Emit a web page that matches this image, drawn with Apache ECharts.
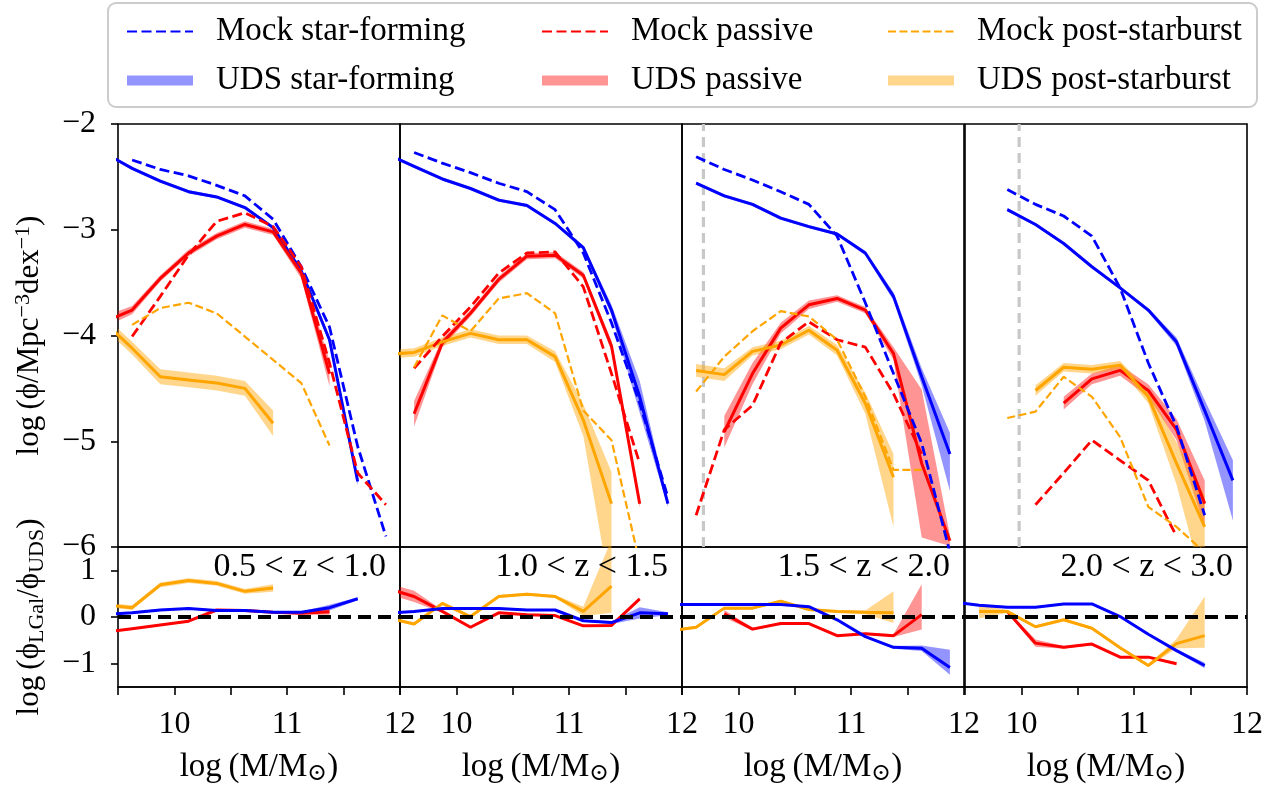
<!DOCTYPE html>
<html>
<head>
<meta charset="utf-8">
<script src="https://cdn.jsdelivr.net/npm/echarts@6/dist/echarts.min.js"></script>
<style>
  html, body { margin: 0; padding: 0; background: #fff; }
  #chart { width: 1278px; height: 788px; }
</style>
</head>
<body>
<div id="chart"></div>
<script>
// bin centres in log stellar mass
const massBins = [9.375, 9.625, 9.875, 10.125, 10.375, 10.625, 10.875, 11.125, 11.375, 11.625, 11.875];
const zBins = ['0.5 < z < 1.0', '1.0 < z < 1.5', '1.5 < z < 2.0', '2.0 < z < 3.0'];
const massLimit = [null, null, 9.69, 9.98];
const phiTicks = [-6, -5, -4, -3, -2];
const ratioTicks = [-1, 0, 1];
const massTicks = [10, 11, 12];

// mock (L-Galaxies) log phi, one row per redshift bin
const mockSF = [
    [null, -2.34, -2.43, -2.49, -2.58, -2.68, -2.90, -3.35, -3.92, -5.05, -5.90],
    [null, -2.27, -2.37, -2.46, -2.56, -2.64, -2.81, -3.22, -3.88, -4.64, -5.53],
    [null, -2.31, -2.43, -2.53, -2.64, -2.76, -3.06, -3.69, -4.36, -5.02, -6.05],
    [null, null, -2.62, -2.76, -2.87, -3.06, -3.55, -4.26, -4.86, -5.70, null]
];
const mockPas = [
    [null, -4.01, -3.63, -3.24, -2.92, -2.84, -2.97, -3.35, -4.26, -5.30, -5.60],
    [null, -4.31, -4.01, -3.73, -3.41, -3.22, -3.21, -3.54, -4.36, -5.21, null],
    [null, -5.70, -4.89, -4.66, -4.07, -3.87, -4.04, -4.11, -4.55, -5.12, null],
    [null, null, null, -5.60, -5.30, -4.99, -5.18, -5.37, -5.90, null, null]
];
const mockPsb = [
    [null, -3.90, -3.74, -3.69, -3.79, -4.01, -4.23, -4.45, -5.04, null, null],
    [null, -4.30, -3.81, -3.96, -3.65, -3.60, -3.79, -4.71, -4.99, -6.15, null],
    [null, -4.53, -4.20, -3.96, -3.77, -3.82, -4.04, -4.58, -5.27, -5.27, null],
    [null, null, -4.78, -4.72, -4.39, -4.58, -4.96, -5.62, -5.81, -6.05, null]
];

// UDS log phi and errors (number = symmetric, [down, up] otherwise)
const udsSF = [
    [-2.27, -2.42, -2.54, -2.64, -2.69, -2.79, -2.98, -3.39, -4.04, -5.38, null],
    [-2.28, -2.40, -2.52, -2.61, -2.72, -2.77, -2.94, -3.17, -3.76, -4.58, -5.59],
    [null, -2.56, -2.68, -2.76, -2.89, -2.97, -3.04, -3.22, -3.63, -4.39, -5.12],
    [null, null, -2.81, -2.95, -3.13, -3.35, -3.55, -3.76, -4.06, -4.71, -5.37]
];
const udsSFErr = [
    [0.015, 0.015, 0.015, 0.015, 0.015, 0.015, 0.015, 0.02, 0.03, 0.04, null],
    [0.015, 0.015, 0.015, 0.015, 0.015, 0.015, 0.015, 0.02, 0.05, 0.15, 0.03],
    [null, 0.015, 0.015, 0.015, 0.015, 0.015, 0.015, 0.02, 0.04, 0.08, [0.35, 0.2]],
    [null, null, 0.015, 0.015, 0.015, 0.015, 0.015, 0.02, 0.04, 0.1, [0.38, 0.19]]
];
const udsPas = [
    [-3.87, -3.76, -3.46, -3.22, -3.06, -2.95, -3.02, -3.41, -4.36, null, null],
    [null, -4.74, -4.07, -3.79, -3.47, -3.25, -3.24, -3.43, -4.10, -5.59, null],
    [null, null, -4.91, -4.36, -3.93, -3.71, -3.65, -3.76, -4.17, -5.21, -5.94],
    [null, null, null, null, -4.64, -4.41, -4.33, -4.52, -4.89, -5.59, null]
];
const udsPasErr = [
    [0.05, 0.04, 0.03, 0.03, 0.03, 0.03, 0.03, 0.05, 0.12, null, null],
    [null, 0.12, 0.04, 0.03, 0.03, 0.03, 0.03, 0.03, 0.05, 0.04, null],
    [null, null, 0.15, 0.1, 0.05, 0.04, 0.03, 0.03, 0.06, 0.7, 0.05],
    [null, null, null, null, 0.06, 0.05, 0.05, 0.06, 0.1, 0.22, null]
];
const udsPsb = [
    [-3.87, -4.12, -4.39, -4.42, -4.45, -4.50, -4.83, null, null, null, null],
    [-4.18, -4.16, -4.06, -3.98, -4.04, -4.04, -4.20, -4.80, -5.59, null, null],
    [null, -4.33, -4.37, -4.15, -4.09, -3.95, -4.14, -4.64, -5.34, null, null],
    [null, null, null, -4.52, -4.30, -4.32, -4.28, -4.58, -5.21, -5.81, null]
];
const udsPsbErr = [
    [0.06, 0.06, 0.07, 0.07, 0.07, 0.07, 0.12, null, null, null, null],
    [0.04, 0.04, 0.04, 0.04, 0.04, 0.04, 0.05, 0.15, [0.9, 0.3], null, null],
    [null, 0.06, 0.06, 0.04, 0.04, 0.04, 0.05, 0.1, [0.47, 0.22], null, null],
    [null, null, null, 0.05, 0.04, 0.04, 0.04, 0.06, 0.2, [0.6, 0.3], null]
];

// log(phi_LGal / phi_UDS)
const ratioSF = [
    [0.05, 0.09, 0.15, 0.18, 0.14, 0.14, 0.10, 0.10, 0.20, 0.39, null],
    [0.08, 0.12, 0.18, 0.18, 0.18, 0.15, 0.15, -0.08, -0.12, 0.09, 0.07],
    [0.27, 0.27, 0.27, 0.27, 0.27, 0.22, -0.06, -0.42, -0.65, -0.67, -1.08],
    [0.33, 0.25, 0.21, 0.21, 0.28, 0.28, 0.01, -0.37, -0.72, -1.04, null]
];
const ratioSFErr = [
    [0.02, 0.02, 0.02, 0.02, 0.02, 0.02, 0.02, 0.02, 0.06, 0.03, null],
    [0.02, 0.02, 0.02, 0.02, 0.02, 0.02, 0.02, 0.02, 0.03, 0.12, 0.03],
    [0.02, 0.02, 0.02, 0.02, 0.02, 0.02, 0.02, 0.02, 0.03, 0.06, [0.16, 0.38]],
    [0.02, 0.02, 0.02, 0.02, 0.02, 0.02, 0.02, 0.02, 0.03, 0.06, null]
];
const ratioPas = [
    [-0.33, -0.25, -0.17, -0.09, 0.15, 0.14, 0.10, 0.08, 0.11, null, null],
    [0.62, 0.44, 0.12, -0.22, 0.09, 0.05, 0.03, -0.19, -0.18, 0.39, null],
    [null, null, 0.07, -0.26, -0.14, -0.14, -0.40, -0.36, -0.40, 0.05, null],
    [null, null, 0.12, -0.56, -0.65, -0.58, -0.86, -0.86, -1.00, null, null]
];
const ratioPasErr = [
    [0.02, 0.02, 0.02, 0.02, 0.02, 0.02, 0.02, 0.03, 0.06, null, null],
    [0.12, 0.12, 0.03, 0.02, 0.02, 0.02, 0.02, 0.02, 0.03, 0.03, null],
    [null, null, 0.08, 0.03, 0.02, 0.02, 0.02, 0.02, 0.03, [0.32, 0.65], null],
    [null, null, 0.03, 0.08, 0.03, 0.02, 0.02, 0.02, 0.03, null, null]
];
const ratioPsb = [
    [0.26, 0.20, 0.69, 0.78, 0.72, 0.55, 0.62, null, null, null, null],
    [-0.01, -0.15, 0.29, 0.01, 0.44, 0.49, 0.44, 0.12, 0.66, null, null],
    [-0.30, -0.22, 0.19, 0.19, 0.34, 0.16, 0.12, 0.10, 0.09, null, null],
    [null, 0.12, 0.12, -0.21, -0.06, -0.24, -0.66, -1.04, -0.57, -0.40, null]
];
const ratioPsbErr = [
    [0.05, 0.05, 0.05, 0.05, 0.05, 0.05, 0.08, null, null, null, null],
    [0.03, 0.03, 0.03, 0.03, 0.03, 0.03, 0.03, 0.1, [0.57, 1.0], null, null],
    [0.03, 0.03, 0.03, 0.03, 0.03, 0.03, 0.03, 0.04, [0.22, 0.46], null, null],
    [null, 0.15, 0.03, 0.03, 0.03, 0.03, 0.03, 0.03, 0.1, [0.26, 0.84], null]
];

const FONT = "'Liberation Serif', 'DejaVu Serif', serif";
const BLUE = '#0000ff', RED = '#ff0000', ORANGE = '#ffa500';
const BAND = {
    sf: 'rgba(0, 0, 255, 0.42)',
    pas: 'rgba(255, 0, 0, 0.42)',
    psb: 'rgba(255, 165, 0, 0.45)'
};

// panel layout
const LEFTS = [118, 400, 682, 965];
const PW = 282;
const UP_TOP = 124, UP_H = 423;
const LO_TOP = 547, LO_H = 140;

function pairs(vals) {
    return massBins.map((x, i) => vals[i] == null ? null : [x, vals[i]]).filter(d => d);
}

function bandRows(vals, errs) {
    const rows = [];
    massBins.forEach((x, i) => {
        if (vals[i] == null) return;
        const e = errs[i];
        const dn = Array.isArray(e) ? e[0] : e;
        const up = Array.isArray(e) ? e[1] : e;
        rows.push([x, vals[i] - dn, vals[i] + up]);
    });
    return rows;
}

function lineSeries(name, data, grid, color, width, dash, z) {
    return {
        type: 'line', name: name, data: data,
        xAxisIndex: grid, yAxisIndex: grid,
        symbol: 'none', clip: true, silent: true, z: z,
        lineStyle: { color: color, width: width, type: dash || 'solid' },
        itemStyle: { color: color }
    };
}

function bandSeries(name, rows, grid, fill) {
    return {
        type: 'custom', name: name, data: rows,
        xAxisIndex: grid, yAxisIndex: grid,
        clip: true, silent: true, z: 2,
        itemStyle: { color: fill },
        encode: { x: 0, y: [1, 2] },
        renderItem: function (params, api) {
            if (params.dataIndex !== 0) return null;
            const top = rows.map(r => api.coord([r[0], r[2]]));
            const bot = rows.map(r => api.coord([r[0], r[1]])).reverse();
            return {
                type: 'polygon',
                shape: { points: top.concat(bot) },
                style: { fill: fill, stroke: null }
            };
        }
    };
}

const grids = [], xAxes = [], yAxes = [], series = [];
const minus = v => (v < 0 ? '\u2212' + Math.abs(v) : String(v));

LEFTS.forEach((left, p) => {
    const gu = p * 2, gl = p * 2 + 1;
    const frame = { show: true, borderColor: '#000', borderWidth: 1.6, backgroundColor: 'transparent' };
    grids.push(Object.assign({ left: left, top: UP_TOP, width: PW, height: UP_H }, frame));
    grids.push(Object.assign({ left: left, top: LO_TOP, width: PW, height: LO_H }, frame));

    xAxes.push({
        type: 'value', gridIndex: gu, min: 9.5, max: 12, interval: 0.5,
        axisLine: { show: false, onZero: false }, axisTick: { show: false },
        axisLabel: { show: false }, splitLine: { show: false }
    });
    xAxes.push({
        type: 'value', gridIndex: gl, min: 9.5, max: 12, interval: 0.5, position: 'bottom',
        axisLine: { show: true, onZero: false, lineStyle: { color: '#000', width: 1.6 } },
        axisTick: { show: true, length: 8, lineStyle: { color: '#000', width: 1.6 } },
        axisLabel: {
            color: '#000', fontSize: 32, fontFamily: FONT, margin: 22,
            formatter: v => (massTicks.includes(v) ? String(v) : '')
        },
        splitLine: { show: false },
        name: '{a|log\u2009(M/M}{s|\u2299}{a|)}',
        nameLocation: 'middle', nameGap: 61,
        nameTextStyle: {
            rich: {
                a: { fontSize: 33, fontFamily: FONT, color: '#000', lineHeight: 38 },
                s: { fontSize: 24, fontFamily: FONT, color: '#000', verticalAlign: 'bottom', lineHeight: 32 }
            }
        }
    });

    yAxes.push({
        type: 'value', gridIndex: gu, min: -6, max: -2, interval: 1,
        axisLine: { show: false, onZero: false },
        axisTick: { show: p === 0, length: 7, lineStyle: { color: '#000', width: 1.6 } },
        axisLabel: {
            show: p === 0, color: '#000', fontSize: 32, fontFamily: FONT, margin: 22,
            formatter: v => (phiTicks.includes(v) ? minus(v) : '')
        },
        splitLine: { show: false },
        name: p === 0 ? '{a|log\u2009(\u03d5/Mpc}{p|\u22123}{a|dex}{p|\u22121}{a|)}' : '',
        nameLocation: 'middle', nameRotate: 90, nameGap: 70,
        nameTextStyle: {
            rich: {
                a: { fontSize: 31, fontFamily: FONT, color: '#000', lineHeight: 36 },
                p: { fontSize: 22, fontFamily: FONT, color: '#000', verticalAlign: 'top', lineHeight: 30 }
            }
        }
    });
    yAxes.push({
        type: 'value', gridIndex: gl, min: -1.5, max: 1.5,
        axisLine: { show: false, onZero: false },
        axisTick: { show: p === 0, length: 7, customValues: ratioTicks, lineStyle: { color: '#000', width: 1.6 } },
        axisLabel: {
            show: p === 0, color: '#000', fontSize: 32, fontFamily: FONT, margin: 22,
            customValues: ratioTicks, formatter: v => minus(v)
        },
        splitLine: { show: false },
        name: p === 0 ? '{a|log\u2009(\u03d5}{s|LGal}{a|/\u03d5}{s|UDS}{a|)}' : '',
        nameLocation: 'middle', nameRotate: 90, nameGap: 70,
        nameTextStyle: {
            rich: {
                a: { fontSize: 31, fontFamily: FONT, color: '#000', lineHeight: 36 },
                s: { fontSize: 22, fontFamily: FONT, color: '#000', verticalAlign: 'bottom', lineHeight: 30 }
            }
        }
    });

    // completeness limit
    if (massLimit[p] != null) {
        series.push(lineSeries('', [[massLimit[p], -6], [massLimit[p], -2]], gu, '#c8c8c8', 3.2, [10, 6], 1));
    }

    // upper panel: UDS bands, UDS lines, mock lines
    series.push(bandSeries('UDS star-forming', bandRows(udsSF[p], udsSFErr[p]), gu, BAND.sf));
    series.push(bandSeries('UDS passive', bandRows(udsPas[p], udsPasErr[p]), gu, BAND.pas));
    series.push(bandSeries('UDS post-starburst', bandRows(udsPsb[p], udsPsbErr[p]), gu, BAND.psb));
    series.push(lineSeries('UDS star-forming', pairs(udsSF[p]), gu, BLUE, 3, null, 3));
    series.push(lineSeries('UDS passive', pairs(udsPas[p]), gu, RED, 3, null, 3));
    series.push(lineSeries('UDS post-starburst', pairs(udsPsb[p]), gu, ORANGE, 3, null, 3));
    series.push(lineSeries('Mock star-forming', pairs(mockSF[p]), gu, BLUE, 2.8, [10, 4.5], 4));
    series.push(lineSeries('Mock passive', pairs(mockPas[p]), gu, RED, 2.8, [10, 4.5], 4));
    series.push(lineSeries('Mock post-starburst', pairs(mockPsb[p]), gu, ORANGE, 2.2, [8, 3.5], 4));

    // lower panel: ratios
    series.push(bandSeries('UDS star-forming', bandRows(ratioSF[p], ratioSFErr[p]), gl, BAND.sf));
    series.push(bandSeries('UDS passive', bandRows(ratioPas[p], ratioPasErr[p]), gl, BAND.pas));
    series.push(bandSeries('UDS post-starburst', bandRows(ratioPsb[p], ratioPsbErr[p]), gl, BAND.psb));
    series.push(lineSeries('UDS passive', pairs(ratioPas[p]), gl, RED, 3, null, 3));
    series.push(lineSeries('UDS post-starburst', pairs(ratioPsb[p]), gl, ORANGE, 3, null, 3));
    series.push(lineSeries('UDS star-forming', pairs(ratioSF[p]), gl, BLUE, 3, null, 3));
    series.push(lineSeries('', [[9.5, 0], [12, 0]], gl, '#000', 4, [13, 7], 5));
});

function legendColumn(left, mockName, udsName, fill) {
    return {
        orient: 'vertical', left: left, top: 8,
        itemWidth: 66, itemHeight: 10, itemGap: 12,
        textStyle: { fontSize: 33, fontFamily: FONT, color: '#000', lineHeight: 37, padding: [0, 0, 0, 18] },
        data: [
            { name: mockName, itemStyle: { opacity: 0 } },
            { name: udsName, icon: 'rect', itemStyle: { color: fill, borderWidth: 0 } }
        ]
    };
}

const graphics = [{
    type: 'rect', z: 0,
    shape: { x: 108, y: 3, width: 1149, height: 104, r: 8 },
    style: { fill: '#fff', stroke: '#cccccc', lineWidth: 2 }
}];
zBins.forEach((label, p) => {
    graphics.push({
        type: 'text', z: 10,
        x: LEFTS[p] + PW - 14, y: 567,
        style: {
            text: label, fontSize: 34, fontFamily: FONT, fill: '#000',
            textAlign: 'right', textVerticalAlign: 'middle', align: 'right', verticalAlign: 'middle'
        }
    });
});

const chart = echarts.init(document.getElementById('chart'));
chart.setOption({
    animation: false,
    backgroundColor: '#fff',
    textStyle: { fontFamily: FONT },
    grid: grids,
    xAxis: xAxes,
    yAxis: yAxes,
    legend: [
        legendColumn(121, 'Mock star-forming', 'UDS star-forming', BAND.sf),
        legendColumn(536, 'Mock passive', 'UDS passive', BAND.pas),
        legendColumn(882, 'Mock post-starburst', 'UDS post-starburst', BAND.psb)
    ],
    graphic: graphics,
    series: series
});
window.addEventListener('resize', () => chart.resize());
</script>
</body>
</html>
